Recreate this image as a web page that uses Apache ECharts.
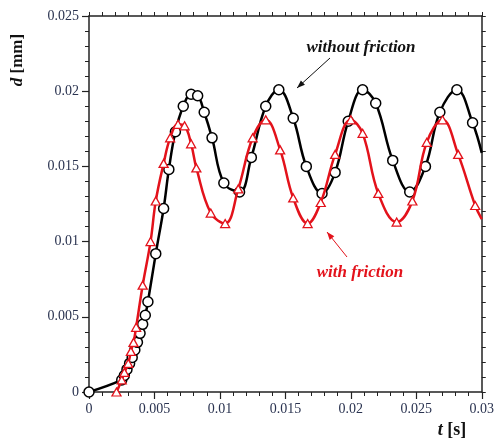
<!DOCTYPE html>
<html>
<head>
<meta charset="utf-8">
<script src="https://cdn.jsdelivr.net/npm/echarts@6/dist/echarts.min.js"></script>
<style>
  html, body { margin: 0; padding: 0; background: #fff; }
  #chart { width: 497px; height: 441px; }
</style>
</head>
<body>
<div id="chart"></div>
<script>
// Displacement d [mm] versus time t [s]
const tWithout = [0, 0.0025, 0.0027, 0.0029, 0.0031, 0.0033, 0.0035, 0.0037, 0.0039, 0.0041, 0.0043, 0.0045,
  0.0051, 0.0057, 0.0061, 0.0066, 0.0072, 0.0078, 0.0083, 0.0088, 0.0094, 0.0103, 0.0115, 0.0124,
  0.0135, 0.0145, 0.0156, 0.0166, 0.0178, 0.0188, 0.0198, 0.0209, 0.0219, 0.0232, 0.0245, 0.0257,
  0.0268, 0.0281, 0.0293, 0.0300];
const dWithout = [0, 0.0008, 0.0011, 0.0015, 0.0019, 0.0023, 0.0028, 0.0033, 0.0039, 0.0045, 0.0051, 0.0060,
  0.0092, 0.0122, 0.0148, 0.0173, 0.0190, 0.0198, 0.0197, 0.0186, 0.0169, 0.0139, 0.0133, 0.0156,
  0.0190, 0.0201, 0.0182, 0.0150, 0.0132, 0.0146, 0.0180, 0.0201, 0.0192, 0.0154, 0.0133, 0.0150,
  0.0186, 0.0201, 0.0179, 0.0159];

const tWith = [0.0021, 0.0025, 0.0027, 0.0030, 0.0032, 0.0034, 0.0036, 0.0041, 0.0047, 0.0051, 0.0057, 0.0062,
  0.0068, 0.0073, 0.0078, 0.0082, 0.0093, 0.0104, 0.0114, 0.0125, 0.0135, 0.0146, 0.0156, 0.0167,
  0.0177, 0.0188, 0.0200, 0.0209, 0.0221, 0.0235, 0.0247, 0.0258, 0.0270, 0.0282, 0.0295, 0.0300];
const dWith = [0, 0.0008, 0.0013, 0.0019, 0.0027, 0.0033, 0.0043, 0.0071, 0.0100, 0.0127, 0.0152, 0.0169,
  0.0178, 0.0177, 0.0165, 0.0149, 0.0119, 0.0112, 0.0135, 0.0169, 0.0181, 0.0161, 0.0129, 0.0112,
  0.0126, 0.0158, 0.0181, 0.0172, 0.0132, 0.0113, 0.0127, 0.0166, 0.0181, 0.0158, 0.0124, 0.0115];

const xMin = 0, xMax = 0.03, xStep = 0.005;
const yMin = 0, yMax = 0.025, yStep = 0.005;

const BLACK = '#000000';
const RED = '#e3121b';
const LABEL = '#2a3350';
const SERIF = '"Liberation Serif", "DejaVu Serif", serif';

// Pair up the arrays; the final sample closes the curve at the plot edge without a marker
function pairs(ts, ds) {
  return ts.map((t, i) => {
    const item = { value: [t, ds[i]] };
    if (i === ts.length - 1 && t === xMax) item.symbol = 'none';
    return item;
  });
}

const fmt = v => String(+v.toFixed(4));

function arrowHead(x1, y1, x2, y2, len, half) {
  const dx = x2 - x1, dy = y2 - y1;
  const L = Math.hypot(dx, dy);
  const ux = dx / L, uy = dy / L;
  const bx = x2 - ux * len, by = y2 - uy * len;
  return [[x2, y2], [bx - uy * half, by + ux * half], [bx + uy * half, by - ux * half]];
}

function arrow(x1, y1, x2, y2, color) {
  return [
    { type: 'line', shape: { x1: x1, y1: y1, x2: x2, y2: y2 }, style: { stroke: color, lineWidth: 1 }, z: 100 },
    { type: 'polygon', shape: { points: arrowHead(x1, y1, x2, y2, 8, 3) }, style: { fill: color }, z: 100 }
  ];
}

const chart = echarts.init(document.getElementById('chart'), null, { renderer: 'canvas' });

const axisLineStyle = { color: '#222', width: 1.5 };

chart.setOption({
  animation: false,
  backgroundColor: '#ffffff',
  grid: { left: 89, right: 14, top: 16, bottom: 49, containLabel: false },
  xAxis: [
    {
      type: 'value', min: xMin, max: xMax, interval: xStep, position: 'bottom',
      axisLine: { show: true, onZero: false, lineStyle: axisLineStyle },
      axisTick: { show: true, inside: false, length: 7, lineStyle: { color: '#222', width: 1.2 } },
      minorTick: { show: true, splitNumber: 5, length: 4, lineStyle: { color: '#222', width: 1 } },
      axisLabel: { show: true, margin: 10, color: LABEL, fontFamily: SERIF, fontSize: 14, formatter: fmt },
      splitLine: { show: false }
    },
    {
      type: 'value', min: xMin, max: xMax, interval: xStep, position: 'top',
      axisLine: { show: true, onZero: false, lineStyle: axisLineStyle },
      axisTick: { show: true, inside: false, length: 4, lineStyle: { color: '#222', width: 1 } },
      minorTick: { show: true, splitNumber: 5, length: 4, lineStyle: { color: '#222', width: 1 } },
      axisLabel: { show: false },
      splitLine: { show: false }
    }
  ],
  yAxis: [
    {
      type: 'value', min: yMin, max: yMax, interval: yStep, position: 'left',
      axisLine: { show: true, onZero: false, lineStyle: axisLineStyle },
      axisTick: { show: true, inside: false, length: 7, lineStyle: { color: '#222', width: 1.2 } },
      minorTick: { show: true, splitNumber: 5, length: 4, lineStyle: { color: '#222', width: 1 } },
      axisLabel: { show: true, margin: 10, color: LABEL, fontFamily: SERIF, fontSize: 14, formatter: fmt },
      splitLine: { show: false }
    },
    {
      type: 'value', min: yMin, max: yMax, interval: yStep, position: 'right',
      axisLine: { show: true, onZero: false, lineStyle: axisLineStyle },
      axisTick: { show: true, inside: false, length: 4, lineStyle: { color: '#222', width: 1 } },
      minorTick: { show: true, splitNumber: 5, length: 4, lineStyle: { color: '#222', width: 1 } },
      axisLabel: { show: false },
      splitLine: { show: false }
    }
  ],
  series: [
    {
      name: 'without friction', type: 'line', xAxisIndex: 0, yAxisIndex: 0,
      data: pairs(tWithout, dWithout), smooth: 0.4,
      symbol: 'circle', symbolSize: 10,
      lineStyle: { color: BLACK, width: 2.5 },
      itemStyle: { color: '#ffffff', borderColor: BLACK, borderWidth: 1.5 },
      z: 3
    },
    {
      name: 'with friction', type: 'line', xAxisIndex: 0, yAxisIndex: 0,
      data: pairs(tWith, dWith), smooth: 0.4,
      symbol: 'triangle', symbolSize: [9, 8],
      lineStyle: { color: RED, width: 2.5 },
      itemStyle: { color: '#ffffff', borderColor: RED, borderWidth: 1.3 },
      z: 4
    }
  ],
  graphic: [
    {
      type: 'text', x: 18, y: 60, rotation: Math.PI / 2, z: 100,
      style: {
        text: '{i|d} [mm]', font: 'bold 17px ' + SERIF, fill: '#111',
        align: 'center', verticalAlign: 'middle',
        rich: { i: { fontStyle: 'italic', fontWeight: 'bold', fontSize: 17, fontFamily: SERIF, fill: '#111' } }
      }
    },
    {
      type: 'text', x: 452, y: 430, z: 100,
      style: {
        text: '{i|t} [s]', font: 'bold 18px ' + SERIF, fill: '#111',
        align: 'center', verticalAlign: 'middle',
        rich: { i: { fontStyle: 'italic', fontWeight: 'bold', fontSize: 18, fontFamily: SERIF, fill: '#111' } }
      }
    },
    {
      type: 'text', x: 361, y: 48, z: 100,
      style: { text: 'without friction', font: 'italic bold 17px ' + SERIF, fill: '#111', align: 'center', verticalAlign: 'middle' }
    },
    {
      type: 'text', x: 360, y: 273, z: 100,
      style: { text: 'with friction', font: 'italic bold 17px ' + SERIF, fill: RED, align: 'center', verticalAlign: 'middle' }
    }
  ].concat(arrow(330, 58, 297, 88, '#111'), arrow(347, 257, 327, 232, RED))
});
</script>
</body>
</html>
